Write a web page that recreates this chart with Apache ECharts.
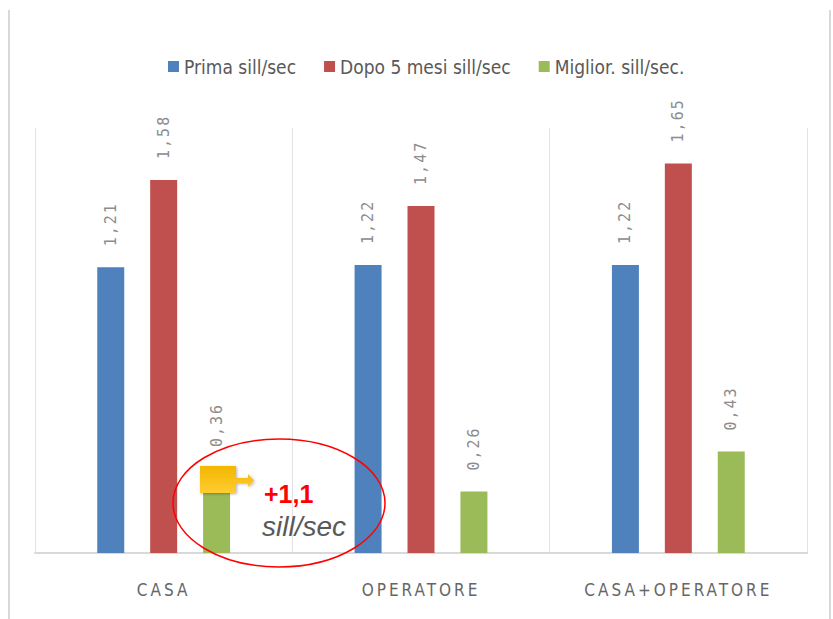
<!DOCTYPE html>
<html>
<head>
<meta charset="utf-8">
<script src="https://cdn.jsdelivr.net/npm/echarts@6/dist/echarts.min.js"></script>
<style>
  html, body { margin: 0; padding: 0; background: #fff; }
  #chart { width: 833px; height: 619px; }
  /* spaziatura lettere per etichette asse e valori (renderer svg) */
  #chart text[fill="#8c8c8c"] { letter-spacing: 2px; }
  #chart text[fill="#666666"] { letter-spacing: 3px; }
</style>
</head>
<body>
<div id="chart"></div>
<script>
const categories = ['CASA', 'OPERATORE', 'CASA+OPERATORE']
const prima = [1.21, 1.22, 1.22]
const dopo = [1.58, 1.47, 1.65]
const miglior = [0.36, 0.26, 0.43]
const seriesNames = ['Prima sill/sec', 'Dopo 5 mesi sill/sec', 'Miglior. sill/sec.']
const colors = ['#4f81bd', '#c0504d', '#9bbb59']

const condensed = '"DejaVu Sans Condensed", "Liberation Sans", sans-serif'

const chart = echarts.init(document.getElementById('chart'), null, { renderer: 'svg' })

const valueLabel = {
  show: true,
  position: 'top',
  rotate: 90,
  align: 'left',
  verticalAlign: 'middle',
  distance: 21,
  color: '#8c8c8c',
  fontFamily: 'DejaVu Sans Mono',
  fontSize: 15,
  formatter: p => p.value.toFixed(2).replace('.', ','),
}

function barSeries(name, data, color) {
  return {
    name: name,
    type: 'bar',
    data: data,
    barWidth: 27,
    barGap: '96%',
    itemStyle: { color: color },
    label: valueLabel,
  }
}

const option = {
  animation: false,
  color: colors,
  grid: { left: 35, right: 26, top: 128, bottom: 66 },
  legend: {
    left: 163,
    top: 52,
    itemWidth: 11,
    itemHeight: 11,
    itemGap: 28,
    icon: 'rect',
    textStyle: {
      color: '#595959',
      fontFamily: condensed,
      fontSize: 19,
    },
  },
  xAxis: {
    type: 'category',
    data: categories,
    axisTick: { show: false },
    axisLine: { lineStyle: { color: '#d9d9d9', width: 2 } },
    axisLabel: {
      color: '#666666',
      fontFamily: condensed,
      fontSize: 17,
      margin: 28,
    },
    splitLine: { show: true, lineStyle: { color: '#e3e3e3', width: 1 } },
  },
  yAxis: {
    type: 'value',
    min: 0,
    max: 1.8,
    show: false,
  },
  series: [
    barSeries(seriesNames[0], prima, colors[0]),
    barSeries(seriesNames[1], dopo, colors[1]),
    barSeries(seriesNames[2], miglior, colors[2]),
  ],
  graphic: [
    // bordi laterali della cornice
    {
      type: 'line',
      shape: { x1: 9, y1: 10, x2: 9, y2: 619 },
      style: { stroke: '#d9d9d9', lineWidth: 2 },
      z: 1,
    },
    {
      type: 'line',
      shape: { x1: 830, y1: 10, x2: 830, y2: 619 },
      style: { stroke: '#d9d9d9', lineWidth: 2 },
      z: 1,
    },
    // riquadro giallo con freccia
    {
      type: 'polygon',
      shape: {
        points: [[200, 466], [236, 466], [236, 478], [248, 478], [248, 474], [254, 480.5],
          [248, 487], [248, 483], [236, 483], [236, 493], [200, 493]],
      },
      style: {
        fill: new echarts.graphic.LinearGradient(0, 0, 0, 1, [
          { offset: 0, color: '#f2b700' },
          { offset: 1, color: '#ffcc33' },
        ]),
        shadowBlur: 3,
        shadowOffsetX: 1,
        shadowOffsetY: 1,
        shadowColor: 'rgba(0,0,0,0.3)',
      },
      z: 10,
    },
    {
      type: 'text',
      x: 264,
      y: 481,
      style: {
        text: '+1,1',
        fill: '#ff0000',
        font: 'bold 25px "Liberation Sans"',
      },
      z: 10,
    },
    {
      type: 'text',
      x: 262,
      y: 512,
      style: {
        text: 'sill/sec',
        fill: '#595959',
        font: 'italic 28px "Liberation Sans"',
      },
      z: 10,
    },
    // ellisse rossa
    {
      type: 'ellipse',
      shape: { cx: 279, cy: 503, rx: 106, ry: 64 },
      style: { fill: 'none', stroke: '#ff0000', lineWidth: 1.5 },
      z: 11,
    },
  ],
}

chart.setOption(option)
</script>
</body>
</html>
